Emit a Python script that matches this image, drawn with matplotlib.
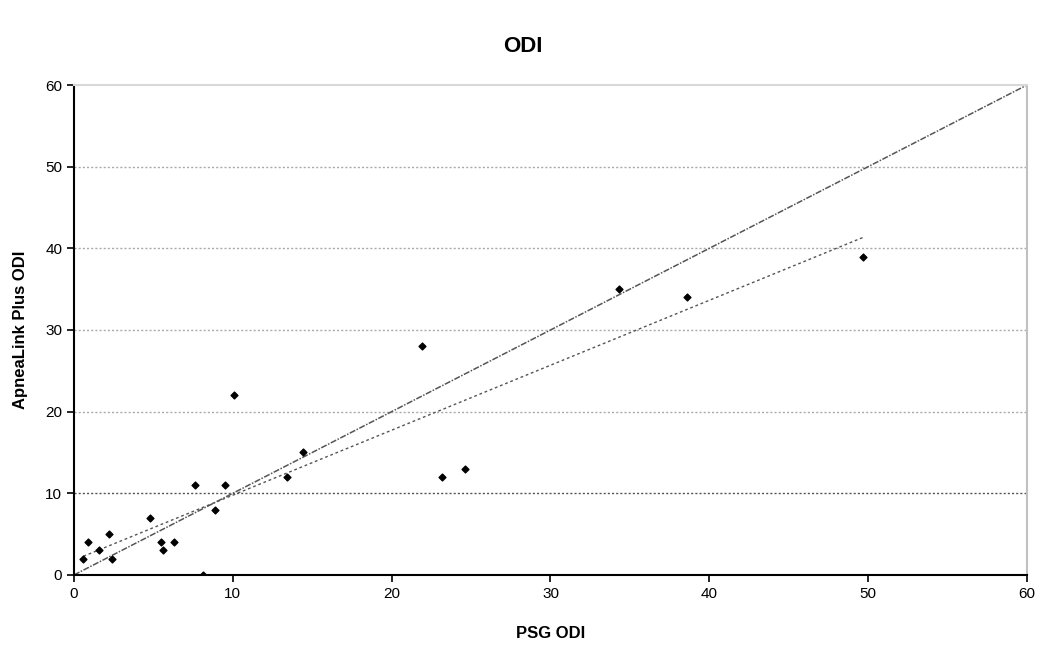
import numpy as np
import matplotlib
matplotlib.use("Agg")
import matplotlib.pyplot as plt

plt.rcParams['font.family'] = ['Liberation Sans', 'DejaVu Sans']

# PSG ODI vs ApneaLink Plus ODI
psg_odi = [0.6, 0.9, 1.6, 2.2, 2.4, 4.8, 5.5, 5.6, 6.3, 7.6, 8.1, 8.9, 9.5,
           10.1, 13.4, 14.4, 21.9, 23.2, 24.6, 34.3, 38.6, 49.7]
apnealink_odi = [2, 4, 3, 5, 2, 7, 4, 3, 4, 11, 0, 8, 11,
                 22, 12, 15, 28, 12, 13, 35, 34, 39]

x = np.array(psg_odi)
y = np.array(apnealink_odi)
slope, intercept = np.polyfit(x, y, 1)

fig = plt.figure(figsize=(10.46, 6.48), dpi=100)
ax = fig.add_axes([0.0707, 0.1127, 0.9111, 0.7561])

# grid lines
for g in [10, 20, 30, 40, 50]:
    col = '#555555' if g == 10 else '#aaaaaa'
    ax.axhline(g, color=col, linestyle=(0, (1.5, 1.5)), linewidth=1, zorder=1)

# identity line
ax.plot([0, 60], [0, 60], color='#555555', linestyle=(0, (4, 1, 1, 1)), linewidth=1.1, zorder=2)
# regression line
xf = np.array([x.min(), x.max()])
ax.plot(xf, slope * xf + intercept, color='#555555', linestyle=(0, (2, 2)), linewidth=1, zorder=2)

ax.scatter(x, y, marker='D', s=12, color='black', zorder=3)

ax.set_xlim(0, 60)
ax.set_ylim(0, 60)
ax.set_xticks(range(0, 61, 10))
ax.set_yticks(range(0, 61, 10))
ax.tick_params(direction='out', length=5, width=1.2, labelsize=11, colors='black')
ax.tick_params(axis='x', pad=4)

for side in ['left', 'bottom']:
    ax.spines[side].set_color('black')
    ax.spines[side].set_linewidth(1.5)
ax.spines['top'].set_color('#d8d8d8')
ax.spines['right'].set_color('#c0c0c0')
ax.spines['top'].set_linewidth(1.5)
ax.spines['right'].set_linewidth(1.5)

ax.set_xlabel('PSG ODI', fontsize=12, fontweight='bold', labelpad=18)
ax.set_ylabel('ApneaLink Plus ODI', fontsize=12, fontweight='bold', labelpad=12)
fig.suptitle('ODI', fontsize=16, fontweight='bold', y=0.945)

fig.savefig('out.png', dpi=100)
